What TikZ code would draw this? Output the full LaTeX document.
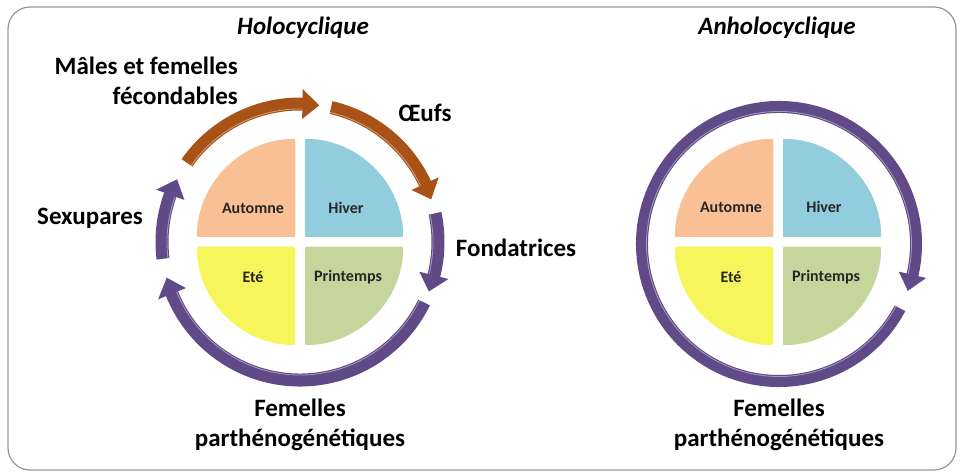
\documentclass[tikz,border=0pt]{standalone}
\usepackage{fontspec}
\setmainfont{Carlito}
\definecolor{peach}{RGB}{249,192,150}
\definecolor{skyb}{RGB}{146,205,221}
\definecolor{yell}{RGB}{246,246,92}
\definecolor{sage}{RGB}{196,214,155}
\definecolor{rust}{RGB}{168,82,24}
\definecolor{violet}{RGB}{96,74,136}
\definecolor{framec}{RGB}{150,150,150}
\newcommand\arcarrow[8]{%
  \pgfmathsetmacro\Ro{#2+#3}\pgfmathsetmacro\Ri{#2-#3}%
  \pgfmathsetmacro\Ho{#2+#4}\pgfmathsetmacro\Hi{#2-#4}%
  \begin{scope}[shift={(#1)}]
    \fill[#8] (#5:\Ro) arc[start angle=#5, end angle=#6, radius=\Ro]
      -- (#6:\Ho) -- (#7:#2) -- (#6:\Hi) -- (#6:\Ri)
      arc[start angle=#6, end angle=#5, radius=\Ri] -- cycle;
    \draw[white, opacity=.45, line width=.8] (#5:\Ri+1.5) arc[start angle=#5, end angle=#6, radius=\Ri+1.5];
  \end{scope}}
\newcommand\quads[2]{%
  \begin{scope}[shift={(#1)}]
    \fill[peach, draw=white, line width=1.5, rounded corners=2] (-4,4) -- (-#2-4,4) arc[start angle=180, end angle=90, radius=#2] -- cycle;
    \fill[skyb, draw=white, line width=1.5, rounded corners=2] (4,4) -- (4,#2+4) arc[start angle=90, end angle=0, radius=#2] -- cycle;
    \fill[yell, draw=white, line width=1.5, rounded corners=2] (-4,-4) -- (-#2-4,-4) arc[start angle=180, end angle=270, radius=#2] -- cycle;
    \fill[sage, draw=white, line width=1.5, rounded corners=2] (4,-4) -- (#2+4,-4) arc[start angle=0, end angle=-90, radius=#2] -- cycle;
  \end{scope}}
\tikzset{
  big/.style={font=\fontsize{25}{30}\selectfont\bfseries, text=black, inner sep=0},
  ttl/.style={font=\fontsize{25}{28}\selectfont\bfseries\itshape, inner sep=0},
  qlab/.style={font=\fontsize{16}{18}\selectfont\bfseries, text=black!85, inner sep=0}
}
\begin{document}
\begin{tikzpicture}[x=1pt,y=1pt]
\useasboundingbox (0,0) rectangle (960,473);
\draw[framec, line width=1.2, rounded corners=22] (8,3) rectangle (956,466);

% left cycle
\quads{300,231}{100}
\arcarrow{300,231}{138}{6.5}{15}{145}{89}{82}{rust}
\arcarrow{300,231}{138}{6.5}{15}{77}{25}{18}{rust}
\arcarrow{300,231}{138}{6.5}{15}{12}{-14}{-21}{violet}
\arcarrow{300,231}{138}{6.5}{15}{-26}{-158}{-165}{violet}
\arcarrow{300,231}{138}{6.5}{15}{187}{160}{153}{violet}

% right cycle
\quads{778,231}{100}
\arcarrow{779,229}{137}{6}{14}{-28}{-373}{-380}{violet}

% texts
\node[ttl] (t1) at (303,445) {Holocyclique};
\node[ttl] (t2) at (777,445) {Anholocyclique};
\node[big, anchor=east, align=right] (males) at (238,392) {Mâles et femelles\\fécondables};
\node[big] (oeufs) at (425,360) {Œufs};
\node[big] (sexu) at (90,255) {Sexupares};
\node[big] (fond) at (516,225) {Fondatrices};
\node[big, align=center] (fp1) at (300,48) {Femelles\\parthénogénétiques};
\node[big, align=center] (fp2) at (779,48) {Femelles\\parthénogénétiques};

\node[qlab] (a1) at (253,265) {Automne};
\node[qlab] (h1) at (346,265) {Hiver};
\node[qlab] (e1) at (253,196) {Eté};
\node[qlab] (p1) at (348,196) {Printemps};
\node[qlab] (a2) at (731,266) {Automne};
\node[qlab] (h2) at (824,266) {Hiver};
\node[qlab] (e2) at (731,196) {Eté};
\node[qlab] (p2) at (826,196) {Printemps};
\end{tikzpicture}
\end{document}
